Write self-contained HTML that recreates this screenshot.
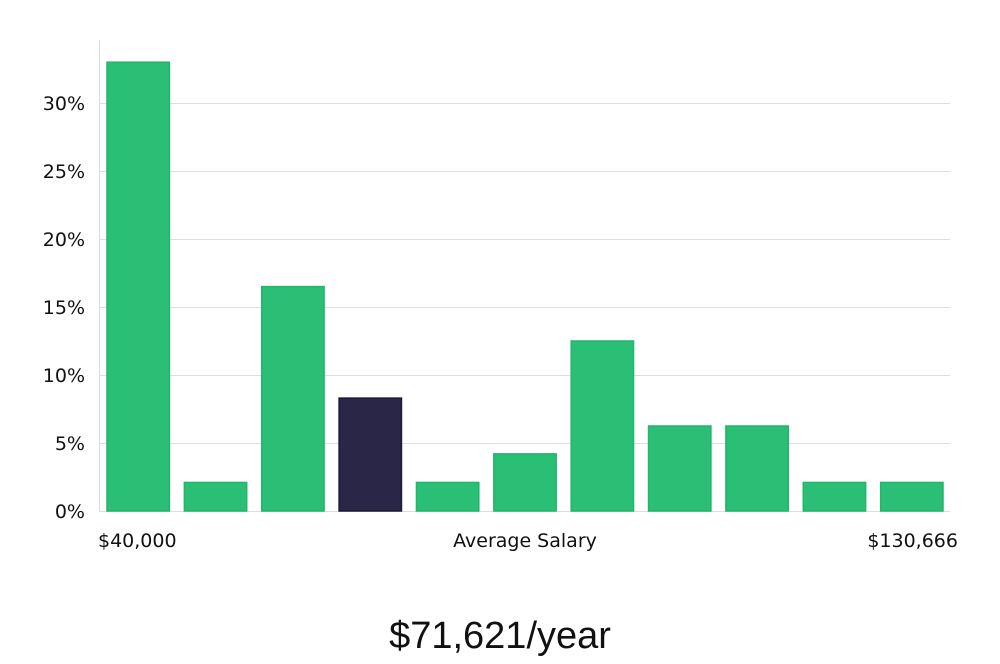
<!DOCTYPE html>
<html><head><meta charset="utf-8"><style>
body{margin:0;background:#fff;width:1000px;height:660px;overflow:hidden;font-family:"DejaVu Sans","Liberation Sans",sans-serif;}
</style></head><body>
<svg width="1000" height="660">
<g id="grid"></g>
<line x1="99.5" y1="40" x2="99.5" y2="512" stroke="#ddd"/>
<g id="bars"></g>
<g id="ticks"></g>
<text x="98" y="547" font-size="19" fill="#111">$40,000</text>
<text x="525" y="547" font-size="19" fill="#111" text-anchor="middle">Average Salary</text>
<text x="958" y="547" font-size="19" fill="#111" text-anchor="end">$130,666</text>
<text x="500" y="648" font-size="38" fill="#111" text-anchor="middle" font-family="Liberation Sans, sans-serif">$71,621/year</text>
</svg>
<script>
const values=[33.0,2.1,16.5,8.3,2.1,4.2,12.5,6.25,6.25,2.1,2.1];
const highlight=[false,false,false,true,false,false,false,false,false,false,false];
const ticks=[0,5,10,15,20,25,30];
const tickLabels=["0%","5%","10%","15%","20%","25%","30%"];
const NS="http://www.w3.org/2000/svg";
const x0=99,x1=950,yBase=511,pxPer=13.6;
const y=v=>yBase-v*pxPer;
const slot=(x1-x0)/values.length;
const grid=document.getElementById('grid'),tk=document.getElementById('ticks'),bars=document.getElementById('bars');
ticks.forEach((t,i)=>{
 const l=document.createElementNS(NS,'line');
 
 
 l.setAttribute('x1',x0);l.setAttribute('x2',x1);l.setAttribute('y1',y(t)+0.5);l.setAttribute('y2',y(t)+0.5);
 l.setAttribute('stroke','#ddd');grid.appendChild(l);
 const tx=document.createElementNS(NS,'text');
 
 
 tx.setAttribute('x',85);tx.setAttribute('y',y(t)+7);tx.setAttribute('text-anchor','end');
 tx.setAttribute('font-size','19');tx.setAttribute('fill','#111');tx.textContent=tickLabels[i];tk.appendChild(tx);
});
values.forEach((v,i)=>{
 const r=document.createElementNS(NS,'rect');
 
 
 r.setAttribute('x',x0+i*slot+8);r.setAttribute('width',slot-15);
 r.setAttribute('y',y(v));r.setAttribute('height',yBase-y(v));
 r.setAttribute('fill',highlight[i]?'#2a2648':'#2bbf76');
 r.setAttribute('stroke',highlight[i]?'#1c1838':'#22b56c');r.setAttribute('stroke-width','1.5');
 bars.appendChild(r);
});
</script>
</body></html>
